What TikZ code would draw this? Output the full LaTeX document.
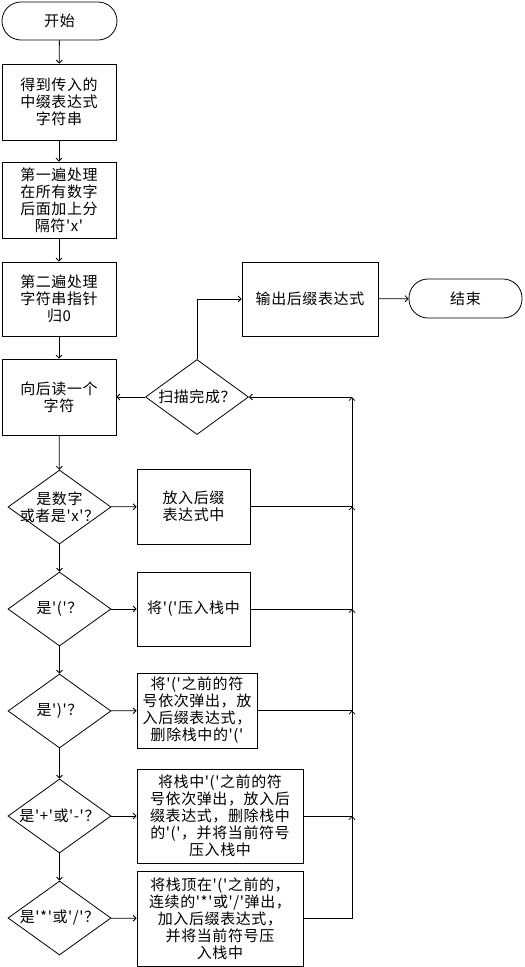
\documentclass[tikz,border=0pt]{standalone}
\usepackage{fontspec}
\newfontfamily\cjk{Noto Sans CJK SC}[LetterSpace=4]
\usetikzlibrary{shapes.geometric,arrows.meta}
\tikzset{
  txtfont/.style={font=\cjk\fontsize{15}{17}\selectfont},
  base/.style={draw, line width=0.8pt, txtfont, align=center, inner sep=0pt},
  proc/.style={base, rectangle},
  term/.style={base, rectangle, rounded corners=19pt},
  dec/.style={draw, line width=0.8pt, diamond, inner sep=0pt},
  lbl/.style={txtfont, align=center, inner sep=0pt},
  arr/.style={line width=0.8pt, -{Straight Barb[length=3pt,width=6pt]}},
}
\begin{document}
\begin{tikzpicture}[x=1pt,y=-1pt]
\useasboundingbox (0,0) rectangle (525,967);
% left column
\node[term, minimum width=115pt, minimum height=38pt] (start) at (59.5,21) {开始};
\node[proc, minimum width=114pt, minimum height=76pt] (b1) at (59,102) {得到传入的\\中缀表达式\\字符串};
\node[proc, minimum width=114pt, minimum height=76pt] (b2) at (59,200) {第一遍处理\\在所有数字\\后面加上分\\隔符'x'};
\node[proc, minimum width=114pt, minimum height=74pt] (b3) at (59,299) {第二遍处理\\字符串指针\\归0};
\node[proc, minimum width=114pt, minimum height=76pt] (b4) at (59,397) {向后读一个\\字符};
% scan diamond, output, end
\node[dec, minimum width=103pt, minimum height=75pt] (scan) at (197,397) {};
\node[lbl] (scant) at (scan) {扫描完成？};
\node[proc, minimum width=136pt, minimum height=74pt] (out) at (310,299) {输出后缀表达式};
\node[term, minimum width=113pt, minimum height=39pt] (end) at (465.5,298.5) {结束};
% decisions
\node[dec, minimum width=103pt, minimum height=74pt] (d1) at (59.5,507) {};
\node[lbl] (d1t) at (d1) {是数字\\或者是'x'？};
\node[dec, minimum width=103pt, minimum height=74pt] (d2) at (59.5,609) {};
\node[lbl] (d2t) at (d2) {是'('？};
\node[dec, minimum width=103pt, minimum height=74pt] (d3) at (59.5,711) {};
\node[lbl] (d3t) at (d3) {是')'？};
\node[dec, minimum width=103pt, minimum height=74pt] (d4) at (59.5,816) {};
\node[lbl] (d4t) at (d4) {是'+'或'-'？};
\node[dec, minimum width=103pt, minimum height=74pt] (d5) at (59.5,918) {};
\node[lbl] (d5t) at (d5) {是'*'或'/'？};
% right boxes
\node[proc, minimum width=113pt, minimum height=75pt] (r1) at (193.5,506.5) {放入后缀\\表达式中};
\node[proc, minimum width=113pt, minimum height=74pt] (r2) at (193.5,609) {将'('压入栈中};
\node[proc, minimum width=120pt, minimum height=75pt] (r3) at (197,710.5) {将'('之前的符\\号依次弹出，放\\入后缀表达式，\\删除栈中的'('};
\node[proc, minimum width=166pt, minimum height=94pt] (r4) at (220,816) {将栈中'('之前的符\\号依次弹出，放入后\\缀表达式，删除栈中\\的'('，并将当前符号\\压入栈中};
\node[proc, minimum width=166pt, minimum height=95pt] (r5) at (220,918.5) {将栈顶在'('之前的，\\连续的'*'或'/'弹出，\\加入后缀表达式，\\并将当前符号压\\入栈中};
% junctions
\coordinate (j0) at (352,397);
\coordinate (j1) at (352,506.5);
\coordinate (j2) at (352,609);
\coordinate (j3) at (352,710.5);
\coordinate (j4) at (352,816);
% connectors
\draw[arr] (start) -- (b1);
\draw[arr] (b1) -- (b2);
\draw[arr] (b2) -- (b3);
\draw[arr] (b3) -- (b4);
\draw[arr] (b4) -- (d1);
\draw[arr] (d1) -- (d2);
\draw[arr] (d2) -- (d3);
\draw[arr] (d3) -- (d4);
\draw[arr] (d4) -- (d5);
\draw[arr] (d1) -- (r1);
\draw[arr] (d2) -- (r2);
\draw[arr] (d3) -- (r3);
\draw[arr] (d4) -- (r4);
\draw[arr] (d5) -- (r5);
\draw[arr] (scan) -- (b4);
\draw[arr] (scan.north) |- (out.west);
\draw[arr] (out) -- (end);
\draw[arr] (j0) -- (scan.east);
\draw[arr] (r1.east) -| (j0);
\draw[arr] (r2.east) -| (j1);
\draw[arr] (r3.east) -| (j2);
\draw[arr] (r4.east) -| (j3);
\draw[arr] (r5.east) -| (j4);
\end{tikzpicture}
\end{document}
